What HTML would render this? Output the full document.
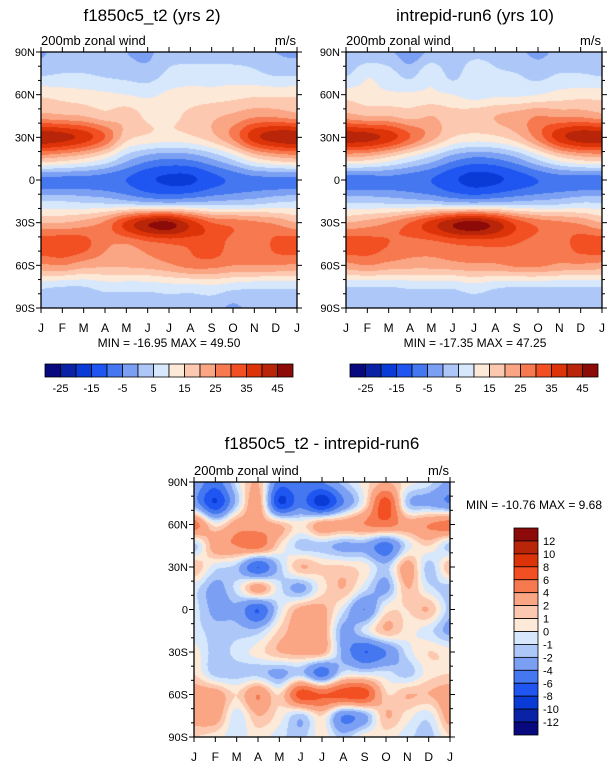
<!DOCTYPE html>
<html><head><meta charset="utf-8">
<style>
html,body{margin:0;padding:0;background:#fff;}
#wrap{position:relative;width:615px;height:767px;overflow:hidden;font-family:"Liberation Sans",Arial,sans-serif;color:#000;}
canvas{position:absolute;left:0;top:0;}
</style></head>
<body>
<div id="wrap">
<canvas id="cv" width="615" height="767"></canvas>
<svg id="ov" width="615" height="767" style="position:absolute;left:0;top:0"></svg>
</div>
<script>
// ---- data ----
const months = ["J","F","M","A","M","J","J","A","S","O","N","D","J"];
const latLabels = ["90N","60N","30N","0","30S","60S","90S"];
const colors = ["#08087f","#0a23a6","#0b3bd6","#1f55f0","#4477f0","#7ba0f3","#adc8f8","#d7e8fc","#fde9d8","#fcc9b0","#faa583","#f6794f","#f24f23","#dd3308","#b82508","#8c0a08"];
const levelsA = [-25,-20,-15,-10,-5,0,5,10,15,20,25,30,35,40,45];
const levelsD = [-12,-10,-8,-6,-4,-2,-1,0,1,2,4,6,8,10,12];
const barLabelsA = ["-25","-15","-5","5","15","25","35","45"];
const barLabelsD = ["12","10","8","6","4","2","1","0","-1","-2","-4","-6","-8","-10","-12"];
// rows: 90N,75N,...,90S ; cols: J..J
const fieldA = [
[-1,3,3,3,0,-1,3,3,3,3,3,0,-1],
[4,5,5,4,3,2,6,7,7,7,6,4,4],
[14,13,12,11,10,9,11,12,12,13,14,14,14],
[22,21,20,17,18,14,14,16,19,21,24,24,22],
[44,42,38,30,17,14,13,14,18,26,38,43,44],
[20,18,15,10,2,-3,-5,-4,0,6,14,18,20],
[-7,-7,-7,-8,-10,-14,-16,-16,-12,-9,-7,-7,-7],
[5,5,4,3,1,-1,-2,-1,0,1,2,4,5],
[20,20,22,26,36,44,46,38,30,28,26,24,20],
[33,34,32,26,25,28,30,31,33,28,27,31,33],
[24,25,22,21,21,22,24,27,27,25,25,25,24],
[6,5,5,7,7,7,8,8,9,7,6,6,6],
[2,2,2,2,2,2,2,2,2,-1,2,2,2]];
const fieldB = [
[1,1,1,-3,1,1,3,3,1,-1,1,1,1],
[4,9,7,3,9,3,9,6,5,3,5,5,4],
[13,12,11,11,11,10,8,9,9,10,12,13,13],
[22,20,20,18,20,17,18,20,22,25,24,24,22],
[43,42,38,30,22,15,13,14,18,27,38,43,43],
[18,17,13,8,3,-3,-6,-5,-1,6,13,17,18],
[-8,-8,-7,-8,-10,-14,-17,-16,-13,-10,-8,-8,-8],
[4,4,3,2,1,-1,-2,-1,0,1,2,4,4],
[20,22,25,30,37,44,47,42,33,28,26,24,20],
[33,32,30,28,28,30,31,31,30,28,28,32,33],
[23,25,23,22,22,23,24,24,26,26,24,24,23],
[5,5,5,6,6,6,8,6,5,5,5,5,5],
[2,2,2,2,2,2,2,2,2,2,2,2,2]];
const fieldD = [
[-2.5,-5,-0.6,2,-5,-4,-4,-1.5,0.5,2,0.5,-0.6,-2.5],
[-3,-8,-1.5,3,-8,-5,-9,-4,0.5,7,-1.5,-2.5,-4],
[5,0.5,3,3,2,0.5,3,3,4,5,3,4,5],
[-1.5,3,4,5,1,-1.5,-1.5,-2.5,-2.5,-5,-0.6,1,-1.5],
[2,-0.6,-1.5,-6,-1.5,2,1.2,1.2,0.5,-1.5,3,-1.5,2],
[-0.6,-2.5,-0.6,3,-0.6,-2.5,0.5,2,-0.6,-2.5,2,-0.6,-1.5],
[-0.6,-2.5,-2.5,-6,-0.6,2.5,2.5,-0.6,-4,0.5,1,2,-1.5],
[-0.6,-1.5,-1.5,-1.5,1.2,3,3,-2.5,-0.6,2,0.5,-0.6,-2.5],
[0.5,-1.5,-0.6,0.5,2,2.5,2.5,-2.5,-6,-4,-0.6,1,0.5],
[1,-1.5,-1.5,-1.5,-2.5,-1.5,-5,-0.6,-0.6,-0.6,-1.5,0.5,1],
[3,3,1,4,1,7,6,7,7,1.2,2,2,3],
[3,3,-0.6,2,0.5,-1.5,1,-4,-2.5,2,0.5,-0.6,3],
[1,0.5,-0.6,0.5,-0.6,-1.5,0.5,-1.5,0.5,0.5,-0.6,-1.5,1]];

// ---- helpers ----
const NS="http://www.w3.org/2000/svg";
const ov=document.getElementById('ov');
const ctx=document.getElementById('cv').getContext('2d');
function cr(p0,p1,p2,p3,t){return 0.5*((2*p1)+(-p0+p2)*t+(2*p0-5*p1+4*p2-p3)*t*t+(-p0+3*p1-3*p2+p3)*t*t*t);}
function sample(f,r,c){
  const R=f.length,C=f[0].length;
  const ri=Math.min(Math.floor(r),R-2),ci=Math.min(Math.floor(c),C-2);
  const tr=r-ri,tc=c-ci;
  const g=(i,j)=>f[Math.max(0,Math.min(R-1,i))][Math.max(0,Math.min(C-1,j))];
  const rows=[];
  for(let k=-1;k<=2;k++){rows.push(cr(g(ri+k,ci-1),g(ri+k,ci),g(ri+k,ci+1),g(ri+k,ci+2),tc));}
  return cr(rows[0],rows[1],rows[2],rows[3],tr);
}
function colorFor(v,lv){let i=0;while(i<lv.length&&v>=lv[i])i++;return colors[i];}
function txt(x,y,s,size,anchor,name){
  const t=document.createElementNS(NS,'text');
  t.setAttribute('x',x);t.setAttribute('y',y);t.setAttribute('font-size',size);
  t.setAttribute('text-anchor',anchor);t.setAttribute('font-family','Liberation Sans, Arial, sans-serif');
  t.textContent=s;
  
  
  ov.appendChild(t);return t;
}
function line(x1,y1,x2,y2,w,name){
  const l=document.createElementNS(NS,'line');
  l.setAttribute('x1',x1);l.setAttribute('y1',y1);l.setAttribute('x2',x2);l.setAttribute('y2',y2);
  l.setAttribute('stroke','#000');l.setAttribute('stroke-width',w||1);
  
  
  ov.appendChild(l);
}
function panel(f,lv,x0,y0,w,h,title,titleX,titleY,pname){
  const R=f.length-1,C=f[0].length-1;
  for(let py=0;py<h;py++){
    for(let px=0;px<w;px++){
      const v=sample(f,(py+0.5)/h*R,(px+0.5)/w*C);
      ctx.fillStyle=colorFor(v,lv);
      ctx.fillRect(x0+px,y0+py,1,1);
    }
  }
  const r=document.createElementNS(NS,'rect');
  r.setAttribute('x',x0);r.setAttribute('y',y0);r.setAttribute('width',w);r.setAttribute('height',h);
  r.setAttribute('fill','none');r.setAttribute('stroke','#000');r.setAttribute('stroke-width',1.3);
  
  
  ov.appendChild(r);
  months.forEach((m,i)=>{
    const x=x0+i*w/12;
    line(x,y0+h,x,y0+h+5,1,pname+'-x-tick');
    line(x,y0,x,y0-5,1,pname+'-x-tick-top');
    txt(x,y0+h+24,m,12,'middle',pname+'-month-label');
  });
  for(let k=0;k<=18;k++){
    const y=y0+k*h/18, maj=(k%3===0), L=maj?5:3;
    line(x0-L,y,x0,y,1,pname+'-y-tick');
    line(x0+w,y,x0+w+L,y,1,pname+'-y-tick-right');
    if(maj) txt(x0-6,y+4,latLabels[k/3],11,'end',pname+'-lat-label');
  }
  txt(x0,y0-7,'200mb zonal wind',13,'start',pname+'-subtitle');
  txt(x0+w-1,y0-7,'m/s',13,'end',pname+'-units');
  txt(titleX,titleY,title,17,'middle',pname+'-title');
}
panel(fieldA,levelsA,41,52,256,256,'f1850c5_t2 (yrs 2)',152,21,'panel-model');
panel(fieldB,levelsA,346,52,256,256,'intrepid-run6 (yrs 10)',475,21,'panel-intrepid');
panel(fieldD,levelsD,194,482,256,255,'f1850c5_t2 - intrepid-run6',322,449,'panel-diff');
txt(169,347,'MIN = -16.95 MAX =  49.50',12,'middle','minmax-model');
txt(475,347,'MIN = -17.35 MAX =  47.25',12,'middle','minmax-intrepid');
txt(534,509,'MIN = -10.76 MAX =   9.68',12,'middle','minmax-diff');

function hbar(x0,name){
  const bw=248/16;
  colors.forEach((c,i)=>{
    const r=document.createElementNS(NS,'rect');
    r.setAttribute('x',x0+i*bw);r.setAttribute('y',364);r.setAttribute('width',bw);r.setAttribute('height',13);
    r.setAttribute('fill',c);r.setAttribute('stroke','#000');r.setAttribute('stroke-width',0.8);
    
    
    ov.appendChild(r);
  });
  barLabelsA.forEach((s,i)=>txt(x0+(1+2*i)*bw,392,s,11,'middle',name+'-label'));
}
hbar(45,'colorbar-model');
hbar(350,'colorbar-intrepid');
(function(){
  const y0=528,bh=207/16;
  colors.slice().reverse().forEach((c,i)=>{
    const r=document.createElementNS(NS,'rect');
    r.setAttribute('x',514);r.setAttribute('y',y0+i*bh);r.setAttribute('width',24);r.setAttribute('height',bh);
    r.setAttribute('fill',c);r.setAttribute('stroke','#000');r.setAttribute('stroke-width',0.8);
    
    
    ov.appendChild(r);
  });
  barLabelsD.forEach((s,i)=>txt(543,y0+(i+1)*bh+4,s,11,'start','colorbar-diff-label'));
})();
</script>
</body></html>
